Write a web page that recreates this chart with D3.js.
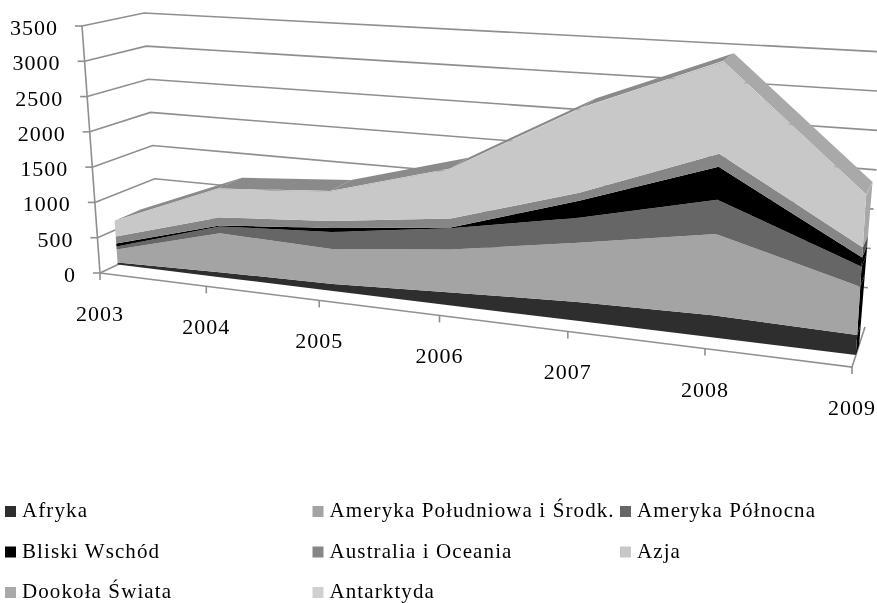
<!DOCTYPE html>
<html>
<head>
<meta charset="utf-8">
<script src="https://cdn.jsdelivr.net/npm/d3@7"></script>
<style>
  html, body { margin: 0; padding: 0; background: #fff; }
  svg { display: block; filter: blur(0.4px); }
  text { font-family: "Liberation Serif", serif; fill: #000; }
</style>
</head>
<body>
<div class="canvas"></div>
<script>
const years = [2003, 2004, 2005, 2006, 2007, 2008, 2009]
const valueTicks = [0, 500, 1000, 1500, 2000, 2500, 3000, 3500]

const afryka = [30, 70, 96, 172, 243, 275, 242]
const amerykaPd = [188, 548, 478, 570, 760, 1013, 581]
const amerykaPn = [43, 98, 232, 279, 321, 425, 242]
const bliskiWschod = [43, 14, 54, 13, 219, 412, 109]
const australia = [101, 112, 96, 119, 103, 162, 121]
const azja = [216, 393, 395, 649, 1080, 1135, 625]
const dookola = [8, 8, 8, 8, 8, 12, 8]
const antarktyda = [4, 4, 4, 5, 6, 8, 6]

const names = ['Afryka', 'Ameryka Południowa i Środk.', 'Ameryka Północna', 'Bliski Wschód',
               'Australia i Oceania', 'Azja', 'Dookoła Świata', 'Antarktyda']
const values = [afryka, amerykaPd, amerykaPn, bliskiWschod, australia, azja, dookola, antarktyda]
const colors = ['#2e2e2e', '#a4a4a4', '#666666', '#000000', '#868686', '#c8c8c8', '#a9a9a9', '#d0d0d0']
const sideColors = ['#000000', '#000000', '#000000', '#000000', '#555555', '#a8a8a8', '#a8a8a8', '#a8a8a8']

const width = 877, height = 603

// the 8 corners of the 3d box as they land on the picture
const box = {
    flb: [100, 273], flt: [82, 26], blb: [159, 245], blt: [144, 13],
    frb: [852, 367], frt: [870, 70], brb: [865, 327], brt: [885, 52]
}
const perspective = 1.215
const depthFront = 0.3, depthBack = 0.75, depthSideLow = 0.55

const xScale = d3.scalePoint().domain(years).range([0, 1])
const yScale = d3.scaleLinear().domain([0, 3500]).range([0, 1])

const mix = (a, b, t) => [a[0] + (b[0] - a[0]) * t, a[1] + (b[1] - a[1]) * t]

const project = (year, value, depth) => {
    const t = xScale(year)
    const s = t / (t + perspective * (1 - t))
    const h = yScale(value)
    const left = mix(mix(box.flb, box.flt, h), mix(box.blb, box.blt, h), depth)
    const right = mix(mix(box.frb, box.frt, h), mix(box.brb, box.brt, h), depth)
    return mix(left, right, s)
}

const line = d3.line()

const svg = d3.select('.canvas').append('svg')
    .attr('width', width)
    .attr('height', height)

const first = years[0], last = years[years.length - 1]

// walls
const grid = svg.append('g')
    .attr('fill', 'none')
    .attr('stroke', '#8f8f8f')
    .attr('stroke-width', 1.6)

grid.selectAll('.back')
    .data(valueTicks.slice(1))
    .enter()
    .append('path')
    .attr('d', d => line([project(first, d, 0), project(first, d, 1), project(last, d, 1)]))

grid.append('path').attr('d', line([project(first, 0, 0), project(first, 0, 1)]))
grid.append('path').attr('d', line([project(first, 0, 0), project(first, 3500, 0)]))
grid.append('path').attr('d', line([project(first, 0, 0), project(last, 0, 0), project(last, 0, 1)]))

grid.selectAll('.ytick')
    .data(valueTicks)
    .enter()
    .append('path')
    .attr('d', d => {
        const p = project(first, d, 0)
        return line([p, [p[0] - 7, p[1]]])
    })

grid.selectAll('.xtick')
    .data(years)
    .enter()
    .append('path')
    .attr('d', d => {
        const p = project(d, 0, 0)
        return line([p, [p[0], p[1] + 7]])
    })

// stacked series
const table = years.map((y, i) => {
    const row = {year: y}
    names.forEach((n, j) => { row[n] = values[j][i] })
    return row
})
const stacked = d3.stack().keys(names)(table)
const topLayer = stacked[stacked.length - 1]

const topFaces = svg.append('g')
d3.pairs(years.map((y, i) => ({year: y, total: topLayer[i][1]}))).forEach(([a, b]) => {
    topFaces.append('path')
        .attr('d', line([
            project(a.year, a.total, depthFront), project(b.year, b.total, depthFront),
            project(b.year, b.total, depthBack), project(a.year, a.total, depthBack)
        ]) + 'Z')
        .attr('fill', b.total < a.total ? '#a9a9a9' : '#8a8a8a')
})

// right end of the band gets narrower towards the floor
const sideDepth = d3.scaleLinear()
    .domain([0, topLayer[topLayer.length - 1][1]])
    .range([depthSideLow, depthBack])

svg.append('g').selectAll('path')
    .data(stacked)
    .enter()
    .append('path')
    .attr('d', s => {
        const row = s[s.length - 1]
        return line([
            project(last, row[0], depthFront), project(last, row[1], depthFront),
            project(last, row[1], sideDepth(row[1])), project(last, row[0], sideDepth(row[0]))
        ]) + 'Z'
    })
    .attr('fill', (d, i) => sideColors[i])

svg.append('g').selectAll('path')
    .data(stacked)
    .enter()
    .append('path')
    .attr('d', s => {
        const upper = s.map((row, i) => project(years[i], row[1], depthFront))
        const lower = s.map((row, i) => project(years[i], row[0], depthFront)).reverse()
        return line(upper.concat(lower)) + 'Z'
    })
    .attr('fill', (d, i) => colors[i])

// axis labels
svg.append('g').selectAll('text')
    .data(valueTicks)
    .enter()
    .append('text')
    .text(d => d)
    .attr('x', d => project(first, d, 0)[0] - 24)
    .attr('y', d => project(first, d, 0)[1] + 9)
    .attr('text-anchor', 'end')
    .style('font-size', '22px')
    .style('letter-spacing', '1px')

svg.append('g').selectAll('text')
    .data(years)
    .enter()
    .append('text')
    .text(d => d)
    .attr('x', d => project(d, 0, 0)[0])
    .attr('y', d => project(d, 0, 0)[1] + 48)
    .attr('text-anchor', 'middle')
    .style('font-size', '22px')
    .style('letter-spacing', '1px')

// legend
const legendX = d3.scalePoint().domain([0, 1, 2]).range([5, 620])
const legendY = d3.scalePoint().domain([0, 1, 2]).range([506, 587])

const legend = svg.append('g').selectAll('g')
    .data(names)
    .enter()
    .append('g')
    .attr('transform', (d, i) => `translate(${legendX(i % 3)}, ${legendY(Math.floor(i / 3))})`)

legend.append('rect')
    .attr('width', 11)
    .attr('height', 11)
    .attr('fill', (d, i) => colors[i])

legend.append('text')
    .text(d => d)
    .attr('x', 17)
    .attr('y', 11)
    .style('font-size', '21px')
    .style('letter-spacing', '1.1px')
</script>
</body>
</html>
